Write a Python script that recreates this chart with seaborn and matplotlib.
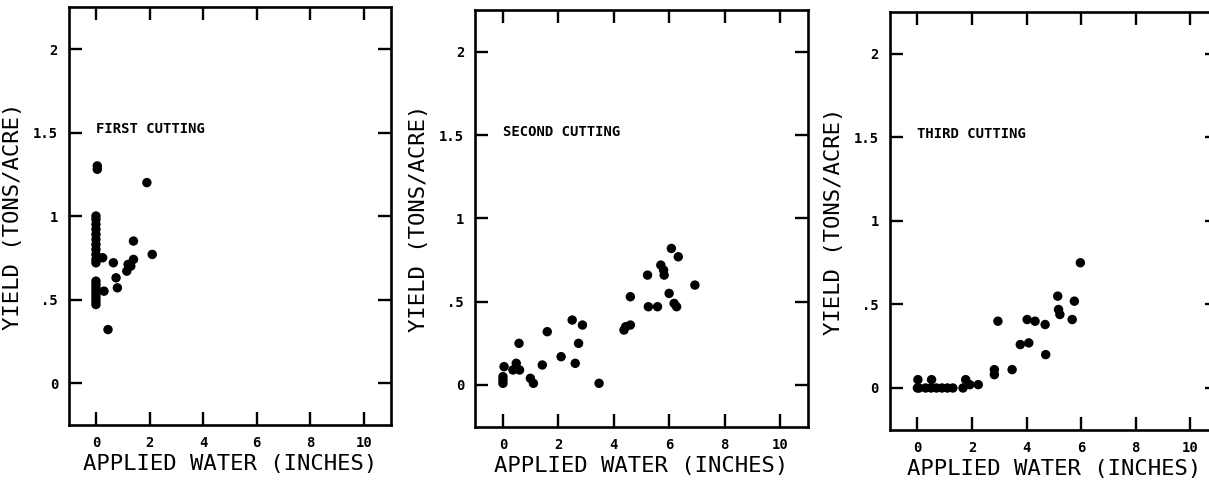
import pandas as pd
import matplotlib
matplotlib.use('Agg')
import matplotlib.pyplot as plt
import seaborn as sns

# Applied water (inches) and yield (tons/acre)
first_water = [0.05, 0.05, 1.9, 0, 0, 0, 0, 0, 0, 0, 0, 0, 0, 0,
               0.25, 0.65, 1.4, 2.1, 1.2, 1.4, 1.15, 1.3, 0.75, 0.8,
               0, 0, 0, 0, 0, 0, 0, 0, 0.3, 0.45]
first_yield = [1.30, 1.28, 1.20, 1.00, 0.98, 0.95, 0.92, 0.89, 0.86, 0.83, 0.80, 0.77, 0.74, 0.72,
               0.75, 0.72, 0.85, 0.77, 0.71, 0.74, 0.67, 0.70, 0.63, 0.57,
               0.61, 0.59, 0.57, 0.55, 0.53, 0.51, 0.49, 0.47, 0.55, 0.32]

second_water = [0, 0, 0, 0.04, 0.48, 0.36, 0.6, 0.58, 0.99, 1.1, 1.42, 1.6, 2.1, 2.5,
                2.61, 2.73, 2.87, 3.47, 4.37, 4.43, 4.6, 4.6, 5.22, 5.25, 5.58, 5.7,
                5.8, 5.82, 6.0, 6.08, 6.33, 6.18, 6.27, 6.93]
second_yield = [0.01, 0.03, 0.05, 0.11, 0.13, 0.09, 0.09, 0.25, 0.04, 0.01, 0.12, 0.32, 0.17, 0.39,
                0.13, 0.25, 0.36, 0.01, 0.33, 0.35, 0.36, 0.53, 0.66, 0.47, 0.47, 0.72,
                0.69, 0.66, 0.55, 0.82, 0.77, 0.49, 0.47, 0.60]

third_water = [0.02, 0.06, 0.0, 0.3, 0.5, 0.7, 0.9, 1.1, 1.3, 0.52, 1.67, 1.77, 1.92, 2.23,
               2.82, 2.82, 2.95, 3.47, 3.77, 4.08, 4.02, 4.31, 4.68, 4.7, 5.14, 5.17,
               5.22, 5.67, 5.75, 5.97]
third_yield = [0.05, 0.0, 0.0, 0.0, 0.0, 0.0, 0.0, 0.0, 0.0, 0.05, 0.0, 0.05, 0.02, 0.02,
               0.08, 0.11, 0.40, 0.11, 0.26, 0.27, 0.41, 0.40, 0.38, 0.20, 0.55, 0.47,
               0.44, 0.41, 0.52, 0.75]

panel_titles = ['FIRST CUTTING', 'SECOND CUTTING', 'THIRD CUTTING']
x_ticks = [0, 2, 4, 6, 8, 10]
y_ticks = [0, 0.5, 1, 1.5, 2]
y_tick_labels = ['0', '.5', '1', '1.5', '2']

panels = [
    pd.DataFrame({'water': first_water, 'yield': first_yield}),
    pd.DataFrame({'water': second_water, 'yield': second_yield}),
    pd.DataFrame({'water': third_water, 'yield': third_yield}),
]

sns.set_style('ticks')
plt.rcParams['font.family'] = ['DejaVu Sans Mono', 'DejaVu Sans']
plt.rcParams['text.color'] = 'black'
plt.rcParams['axes.labelcolor'] = 'black'
plt.rcParams['xtick.color'] = 'black'
plt.rcParams['ytick.color'] = 'black'

fig = plt.figure(figsize=(12.09, 4.84), dpi=100)

# axes boxes placed to match the scanned page (third one runs off the right edge)
boxes = [
    [0.0572, 0.1224, 0.2660, 0.8626],
    [0.3931, 0.1186, 0.2749, 0.8600],
    [0.7362, 0.1121, 0.2710, 0.8626],
]

for box, df, title in zip(boxes, panels, panel_titles):
    ax = fig.add_axes(box)
    sns.scatterplot(data=df, x='water', y='yield', ax=ax, color='black',
                    s=46, edgecolor='none', linewidth=0)
    ax.set_xlim(-1, 11)
    ax.set_ylim(-0.25, 2.25)
    ax.set_xticks(x_ticks)
    ax.set_xticklabels([str(t) for t in x_ticks], fontsize=10, fontweight='bold')
    ax.set_yticks(y_ticks)
    ax.set_yticklabels(y_tick_labels, fontsize=10, fontweight='bold')
    ax.tick_params(direction='in', length=9.5, width=1.7, pad=8,
                   top=True, right=True)
    for spine in ax.spines.values():
        spine.set_visible(True)
        spine.set_linewidth(1.9)
        spine.set_color('black')
    ax.set_xlabel('APPLIED WATER (INCHES)', fontsize=16, labelpad=3)
    ax.set_ylabel('YIELD (TONS/ACRE)', fontsize=16, labelpad=7)
    ax.text(0, 1.52, title, fontsize=10, fontweight='bold', va='center', ha='left')

fig.savefig('out.png', dpi=100, facecolor='white')
